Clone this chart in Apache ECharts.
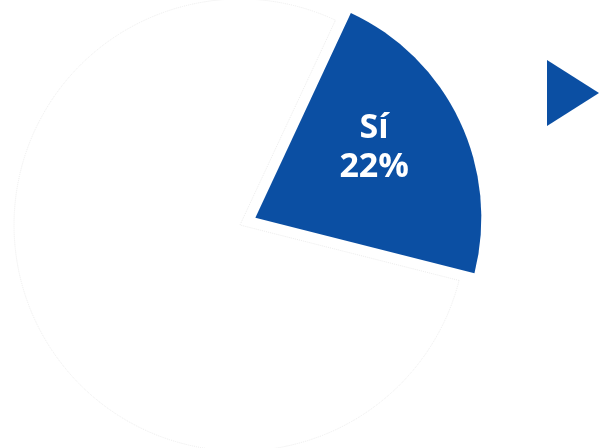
<!DOCTYPE html>
<html lang="es">
<head>
  <meta charset="UTF-8">
  <script src="https://cdn.jsdelivr.net/npm/echarts@6/dist/echarts.min.js"></script>
  <style>
    html, body { margin: 0; padding: 0; background: #ffffff; }
    #chart { width: 599px; height: 448px; }
  </style>
</head>
<body>
<div id="chart"></div>
<script>
  // datos del gráfico
  var categorias = ['Sí', 'No'];
  var valores = [22, 78];
  var colores = ['#0b4fa3', '#ffffff'];

  var myChart = echarts.init(document.getElementById('chart'), null, { renderer: 'canvas' });

  var datos = categorias.map(function (nombre, i) {
    var item = {
      name: nombre,
      value: valores[i],
      itemStyle: { color: colores[i] }
    };
    if (i === 0) {
      item.selected = true;
      item.label = {
        show: true,
        position: 'inside',
        formatter: '{b}\n{d}%',
        color: '#ffffff',
        fontFamily: 'Open Sans',
        fontWeight: 'bold',
        fontSize: 34,
        lineHeight: 39
      };
    } else {
      item.itemStyle.borderColor = '#ececec';
      item.itemStyle.borderWidth = 1;
      item.itemStyle.borderType = 'dotted';
      item.label = { show: false };
    }
    return item;
  });

  var option = {
    animation: false,
    series: [
      {
        type: 'pie',
        center: [240, 225],
        radius: 226,
        startAngle: 65,
        clockwise: true,
        selectedMode: 'single',
        selectedOffset: 17,
        avoidLabelOverlap: false,
        labelLine: { show: false },
        // mover la etiqueta un poco hacia arriba y a la derecha
        labelLayout: function (params) {
          if (params.dataIndex === 0) {
            return { dx: 14, dy: -20 };
          }
          return {};
        },
        emphasis: { disabled: true },
        data: datos
      }
    ],
    graphic: [
      {
        type: 'polygon',
        shape: { points: [[547, 60], [547, 126], [599, 93]] },
        style: { fill: '#0b4fa3' }
      }
    ]
  };

  myChart.setOption(option);
</script>
</body>
</html>
